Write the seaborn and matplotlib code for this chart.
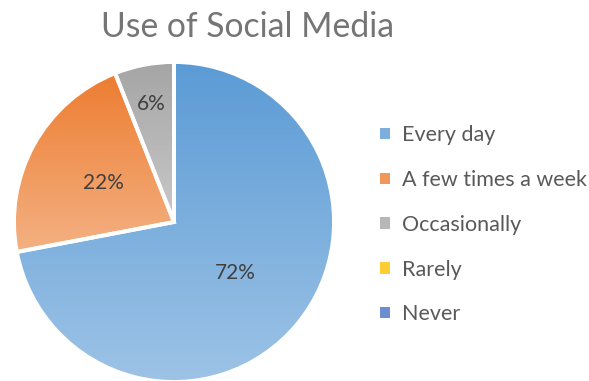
import numpy as np
import matplotlib
matplotlib.use("Agg")
import matplotlib.pyplot as plt
import seaborn as sns
from matplotlib.colors import LinearSegmentedColormap
from matplotlib.patches import Patch

categories = ["Every day", "A few times a week", "Occasionally", "Rarely", "Never"]
values = [72, 22, 6, 0, 0]
top_colors = ["#5B9BD5", "#ED7D31", "#A5A5A5", "#FFC000", "#4472C4"]
bottom_colors = ["#9DC3E6", "#F4B183", "#C9C9C9", "#FFD966", "#8FAADC"]
title = "Use of Social Media"

sns.set_theme(style="white")
plt.rcParams['font.family'] = ['Lato', 'DejaVu Sans']

palette = sns.color_palette(top_colors)

fig = plt.figure(figsize=(5.89, 3.81), dpi=100)
W, H = 589, 381
cx, cy, R = 174, 381 - 222, 160
lim = 1.05
ax = fig.add_axes([(cx - lim * R) / W, (cy - lim * R) / H, 2 * lim * R / W, 2 * lim * R / H])

nz = [i for i, v in enumerate(values) if v > 0]
vals = [values[i] for i in nz]

def fmt(p):
    return f"{p:.0f}%" if p > 0.5 else ""

wedges, texts, autotexts = ax.pie(
    vals, startangle=90, counterclock=False,
    colors=[palette[i] for i in nz], autopct=fmt, pctdistance=0.5,
    wedgeprops=dict(edgecolor="white", linewidth=2.8),
    textprops=dict(color="#404040", fontsize=15),
)

# gradient fill clipped to each wedge
for w, i in zip(wedges, nz):
    ext = w.get_path().get_extents(w.get_patch_transform())
    cmap = LinearSegmentedColormap.from_list("g", [bottom_colors[i], top_colors[i]])
    grad = np.linspace(0, 1, 256).reshape(-1, 1)
    im = ax.imshow(grad, cmap=cmap, origin="lower", aspect="auto",
                   extent=[ext.x0, ext.x1, ext.y0, ext.y1], zorder=1)
    im.set_clip_path(w)
    w.set_facecolor("none")
    w.set_zorder(2)

for t in autotexts:
    t.set_zorder(3)
# 6% label sits further out in the reference
scale = [1.0, 1.0, 1.5]
for t, s in zip(autotexts, scale):
    x, y = t.get_position()
    t.set_position((x * s, y * s))

ax.set_xlim(-lim, lim)
ax.set_ylim(-lim, lim)
ax.set_aspect("equal")
ax.axis("off")

fig.text(248 / W, 0.928, title, ha="center", va="center", fontsize=24.3, color="#757575")

handles = [Patch(facecolor=sns.blend_palette([top_colors[i], bottom_colors[i]], 3)[1], edgecolor="none")
           for i in range(len(categories))]
leg = fig.legend(handles, categories, loc="center left", bbox_to_anchor=(0.646, 0.41),
                 frameon=False, fontsize=15.5, labelcolor="#595959",
                 handlelength=0.45, handleheight=0.45, handletextpad=0.55, labelspacing=1.15,
                 borderaxespad=0, borderpad=0)

fig.savefig("out.png", dpi=100, facecolor="white")
